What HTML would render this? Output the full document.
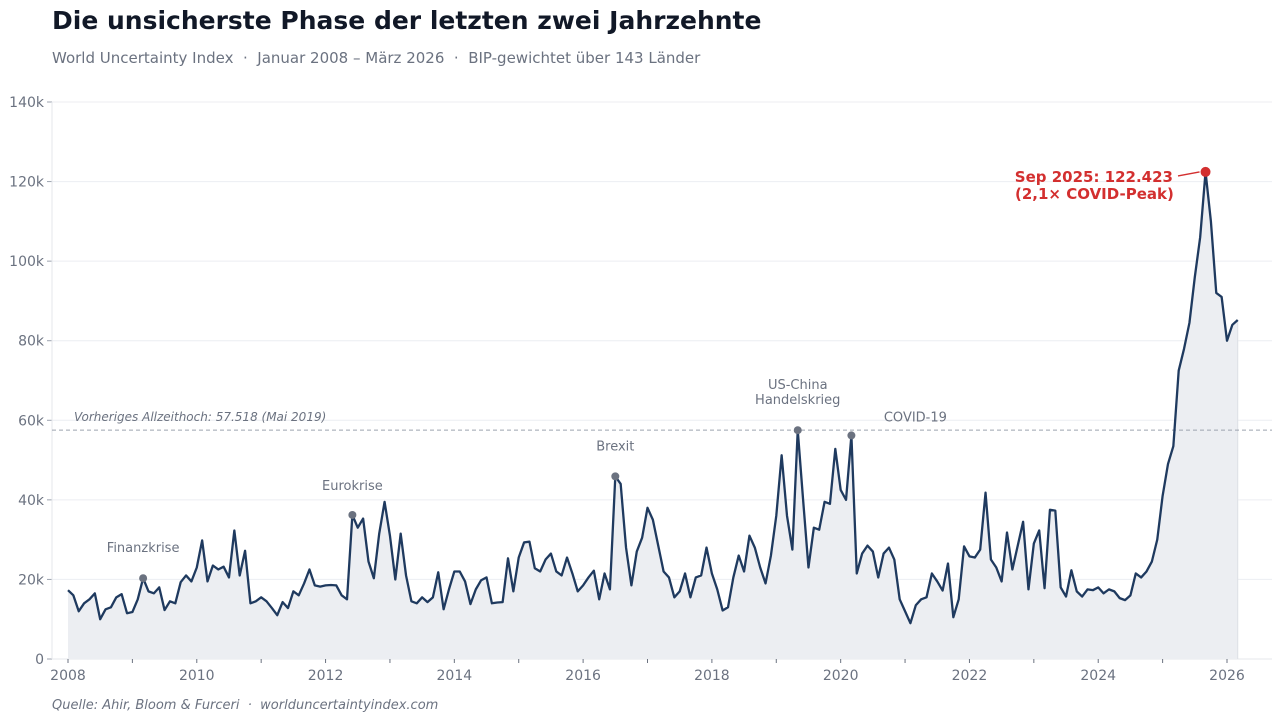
<!DOCTYPE html>
<html><head><meta charset="utf-8"><style>
body{margin:0;background:#fff;font-family:"Liberation Sans","DejaVu Sans",sans-serif;}
svg text{font-family:"DejaVu Sans","Liberation Sans",sans-serif;white-space:pre;}
</style></head><body>
<svg id="chart" width="1279" height="720" viewBox="0 0 1279 720" xmlns="http://www.w3.org/2000/svg">
<text x="52" y="29" font-size="25" font-weight="bold" fill="#111827" xml:space="preserve">Die unsicherste Phase der letzten zwei Jahrzehnte</text>
<text x="52" y="63" font-size="15" fill="#6b7280" xml:space="preserve">World Uncertainty Index  ·  Januar 2008 – März 2026  ·  BIP-gewichtet über 143 Länder</text>
<g id="grid"></g>
<g id="marks"></g>
<text x="52" y="709" font-size="13" font-style="italic" fill="#6b7280" xml:space="preserve">Quelle: Ahir, Bloom &amp; Furceri  ·  worlduncertaintyindex.com</text>
</svg>
<script>
const startYear = 2008;
const values = [
17.3,16,12,14,15,16.5,10,12.5,13,15.5,16.3,11.5,
11.8,15,20.3,17,16.5,18,12.3,14.5,14,19.3,21,19.5,
23,29.8,19.5,23.5,22.5,23.2,20.5,32.3,21,27.2,14,14.5,
15.5,14.5,12.8,11,14.3,12.8,17,16,19,22.5,18.5,18.2,
18.5,18.6,18.5,16,15,36.2,33,35.3,24.5,20.3,31.5,39.5,
31,20,31.5,21,14.5,14,15.5,14.3,15.5,21.8,12.5,17.5,
22,22,19.5,13.8,17.5,19.8,20.5,14,14.2,14.3,25.3,17,
25.5,29.3,29.5,22.8,22,25,26.5,22,21,25.5,21.5,17,
18.5,20.5,22.2,15,21.5,17.5,45.9,44,28,18.5,27,30.5,
38,35,28.5,22,20.5,15.5,17,21.5,15.5,20.5,21,28,
21.5,17.5,12.2,13,20.5,26,22,31,28,23,19,26,
36,51.2,36,27.5,57.5,40,23,33,32.5,39.5,39,52.8,
42.5,40,56.2,21.5,26.5,28.5,27,20.5,26.5,28,25,15,
12,9,13.5,15,15.5,21.5,19.5,17.2,24,10.5,15,28.3,
25.8,25.5,27.5,41.8,25,23,19.5,31.8,22.5,28.5,34.5,17.5,
29,32.3,17.8,37.5,37.3,18,15.7,22.3,17,15.7,17.5,17.3,
18,16.5,17.5,17,15.3,14.8,16,21.5,20.5,22,24.5,30,
41,49,53.5,72.5,78,84.5,96,106,122.423,110,92,91,
80,84,85.2];
const yTicks = [0,20,40,60,80,100,120,140];
const yTickLabels = ["0","20k","40k","60k","80k","100k","120k","140k"];
const xTickYears = [2008,2010,2012,2014,2016,2018,2020,2022,2024,2026];
const events = ["Finanzkrise","Eurokrise","Brexit","US-China|Handelskrieg","COVID-19"];
const eventIdx = [14,53,102,136,146];
const prevHigh = 57.518;

const NS="http://www.w3.org/2000/svg";
const L=52,R=1272,T=102,B=659;
const x0=68, pxMonth=(1227-68)/216;
const X=i=>x0+i*pxMonth;
const Y=v=>B-(v/140)*(B-T);
function el(tag,attrs,parent,text){const e=document.createElementNS(NS,tag);for(const k in attrs)e.setAttribute(k,attrs[k]);if(text!==undefined)e.textContent=text;parent.appendChild(e);return e;}
const grid=document.getElementById('grid'), marks=document.getElementById('marks');

yTicks.forEach((t,i)=>{
  const g=el('line',{x1:L,x2:R,y1:Y(t),y2:Y(t),stroke:'#eceef2','stroke-width':1},grid);
  
  
  el('line',{x1:L-5,x2:L,y1:Y(t),y2:Y(t),stroke:'#9ca3af'},grid);
  const lb=el('text',{x:L-8,y:Y(t)+5,'font-size':14,fill:'#6b7280','text-anchor':'end'},grid,yTickLabels[i]);
  
  
});
el('line',{x1:L,x2:L,y1:T,y2:B,stroke:'#e5e7eb'},grid);
el('line',{x1:L,x2:R,y1:B,y2:B,stroke:'#e5e7eb'},grid);
for(let y=startYear;y<=2026;y++){
  const x=X((y-startYear)*12);
  el('line',{x1:x,x2:x,y1:B,y2:B+4,stroke:'#6b7280'},grid);
}
xTickYears.forEach(y=>{
  const lb=el('text',{x:X((y-startYear)*12),y:680,'font-size':14,fill:'#6b7280','text-anchor':'middle'},grid,String(y));
  
  
});

let d='';values.forEach((v,i)=>{d+=(i?'L':'M')+X(i).toFixed(2)+','+Y(v).toFixed(2);});
const area=el('path',{d:d+'L'+X(values.length-1)+','+B+'L'+X(0)+','+B+'Z',fill:'#eceef2'},marks);


el('line',{x1:X(values.length-1),x2:X(values.length-1),y1:Y(values[values.length-1]),y2:B,stroke:'#dde0e6'},marks);
const hl=el('line',{x1:L,x2:R,y1:Y(prevHigh),y2:Y(prevHigh),stroke:'#9ca3af','stroke-dasharray':'4,3','stroke-width':1},marks);


const ht=el('text',{x:74,y:Y(prevHigh)-9,'font-size':12,'font-style':'italic',fill:'#6b7280'},marks,'Vorheriges Allzeithoch: 57.518 (Mai 2019)');


const line=el('path',{d:d,fill:'none',stroke:'#1f3a5f','stroke-width':2.3,'stroke-linejoin':'round'},marks);



const labelOff=[26,25,26,26,14];
events.forEach((name,k)=>{
  const i=eventIdx[k],cx=X(i),cy=Y(values[i]);
  const dot=el('circle',{cx:cx,cy:cy,r:4,fill:'#6b7280'},marks);
  
  
  const parts=name.split('|');
  const off= name==='COVID-19'?64:0;
  parts.forEach((p,j)=>{
    const t=el('text',{x:cx+off,y:cy-labelOff[k]-(parts.length-1-j)*15,'font-size':13,fill:'#6b7280','text-anchor':'middle'},marks,p);
    
    
  });
});

let pi=0;values.forEach((v,i)=>{if(v>values[pi])pi=i;});
const px=X(pi),py=Y(values[pi]);
el('line',{x1:1178,y1:py+4,x2:px-6,y2:py,stroke:'#d32f2f','stroke-width':1.5},marks);
const pd=el('circle',{cx:px,cy:py,r:5,fill:'#d32f2f'},marks);


const pt1=el('text',{x:1173,y:py+10,'font-size':15,'font-weight':'bold',fill:'#d32f2f','text-anchor':'end'},marks,'Sep 2025: 122.423');


const pt2=el('text',{x:1015,y:py+27,'font-size':15,'font-weight':'bold',fill:'#d32f2f'},marks,'(2,1× COVID-Peak)');


</script>
</body></html>
